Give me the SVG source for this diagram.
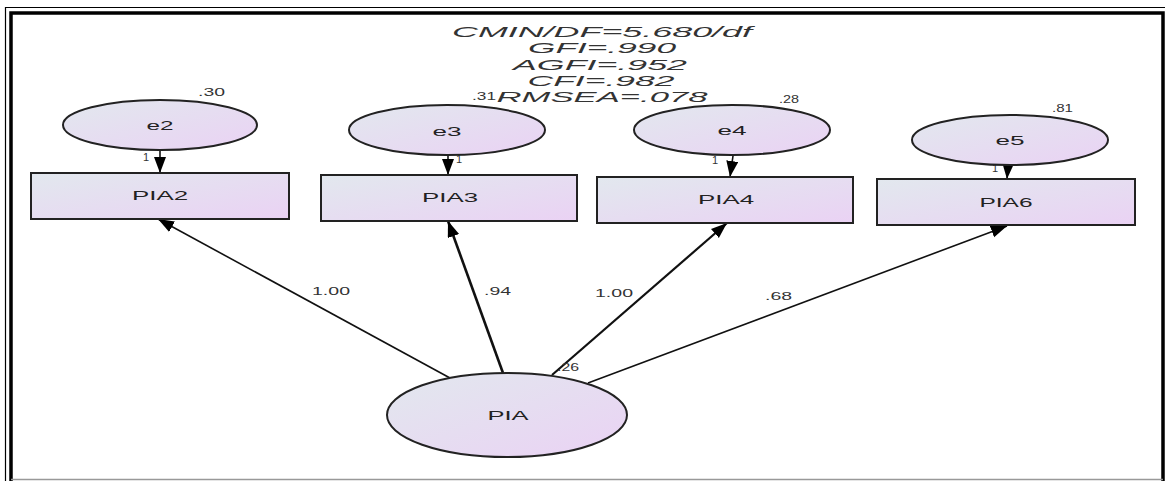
<svg xmlns="http://www.w3.org/2000/svg" width="1165" height="481" viewBox="0 0 1165 481">
<style>
text{font-family:"Liberation Sans",Arial,sans-serif;fill:#222}
.fit{font-size:14.2px;font-style:italic;text-anchor:middle;fill:#333}
.nl{font-size:12px;text-anchor:middle}
.sm{font-size:11px;fill:#333}
.node{fill:url(#g);stroke:#222;stroke-width:2}
.c{stroke:#111;fill:none;stroke-width:1.6;marker-end:url(#ah)}
</style>
<defs>
<linearGradient id="g" x1="0" y1="0" x2="1" y2="1">
<stop offset="0" stop-color="#e2e8ee"/>
<stop offset="1" stop-color="#ead2f4"/>
</linearGradient>
<marker id="ah" markerUnits="userSpaceOnUse" markerWidth="18" markerHeight="14" refX="16" refY="6" orient="auto">
<path d="M0,0 L16,6 L0,12 z" fill="#000"/>
</marker>
</defs>
<rect x="0" y="0" width="1165" height="481" fill="#fff"/>
<g id="frame" fill="none">
<path d="M5.5,481 V7.5 H1165" stroke="#000" stroke-width="1.2"/>
<path d="M11,481 V13 H1163 V481" stroke="#000" stroke-width="3.5"/>
<line x1="11" y1="479.5" x2="1163" y2="479.5" stroke="#999" stroke-width="1.5"/>
</g>
<g id="fit">
<text class="fit" x="602" y="37" textLength="300" lengthAdjust="spacingAndGlyphs">CMIN/DF=5.680/df</text>
<text class="fit" x="602" y="53.3" textLength="148" lengthAdjust="spacingAndGlyphs">GFI=.990</text>
<text class="fit" x="600" y="69.6" textLength="174" lengthAdjust="spacingAndGlyphs">AGFI=.952</text>
<text class="fit" x="601" y="85.9" textLength="147" lengthAdjust="spacingAndGlyphs">CFI=.982</text>
<text class="fit" x="602" y="102.2" textLength="211" lengthAdjust="spacingAndGlyphs">RMSEA=.078</text>
</g>
<g id="connectors">
<line class="c" x1="160" y1="150" x2="160" y2="173"/>
<line class="c" x1="448" y1="155" x2="448" y2="175"/>
<line class="c" x1="733" y1="156" x2="730" y2="177"/>
<line class="c" x1="1008" y1="165" x2="1007" y2="179"/>
<line class="c" x1="450" y1="378" x2="158" y2="219"/>
<line class="c" x1="503" y1="373" x2="448" y2="221" style="stroke-width:2.6"/>
<line class="c" x1="552" y1="375" x2="727" y2="223" style="stroke-width:2.2"/>
<line class="c" x1="588" y1="383" x2="1007" y2="226"/>
<text class="sm" x="143" y="161">1</text>
<text class="sm" x="456" y="163">1</text>
<text class="sm" x="712" y="164">1</text>
<text class="sm" x="992" y="172">1</text>
<text class="sm" x="312" y="295" textLength="38" lengthAdjust="spacingAndGlyphs">1.00</text>
<text class="sm" x="484" y="295" textLength="27" lengthAdjust="spacingAndGlyphs">.94</text>
<text class="sm" x="595" y="297" textLength="38" lengthAdjust="spacingAndGlyphs">1.00</text>
<text class="sm" x="765" y="300" textLength="27" lengthAdjust="spacingAndGlyphs">.68</text>
</g>
<g id="e2">
<ellipse class="node" cx="160" cy="125" rx="97" ry="25"/>
<text class="nl" x="160" y="130" textLength="27" lengthAdjust="spacingAndGlyphs">e2</text>
<text class="sm" x="198" y="96" textLength="27" lengthAdjust="spacingAndGlyphs">.30</text>
</g>
<g id="e3">
<ellipse class="node" cx="447" cy="130" rx="98" ry="25"/>
<text class="nl" x="447" y="136" textLength="29" lengthAdjust="spacingAndGlyphs">e3</text>
<text class="sm" x="472" y="100" textLength="24" lengthAdjust="spacingAndGlyphs">.31</text>
</g>
<g id="e4">
<ellipse class="node" cx="732" cy="130" rx="98" ry="25"/>
<text class="nl" x="732" y="135" textLength="29" lengthAdjust="spacingAndGlyphs">e4</text>
<text class="sm" x="779" y="103" textLength="20" lengthAdjust="spacingAndGlyphs">.28</text>
</g>
<g id="e5">
<ellipse class="node" cx="1010" cy="140" rx="98" ry="25"/>
<text class="nl" x="1010" y="145" textLength="29" lengthAdjust="spacingAndGlyphs">e5</text>
<text class="sm" x="1052" y="112" textLength="21" lengthAdjust="spacingAndGlyphs">.81</text>
</g>
<g id="PIA2">
<rect class="node" x="31" y="173" width="258" height="46"/>
<text class="nl" x="160" y="200" textLength="56" lengthAdjust="spacingAndGlyphs">PIA2</text>
</g>
<g id="PIA3">
<rect class="node" x="321" y="175" width="256" height="46"/>
<text class="nl" x="450" y="202" textLength="56" lengthAdjust="spacingAndGlyphs">PIA3</text>
</g>
<g id="PIA4">
<rect class="node" x="597" y="177" width="256" height="46"/>
<text class="nl" x="726" y="204" textLength="56" lengthAdjust="spacingAndGlyphs">PIA4</text>
</g>
<g id="PIA6">
<rect class="node" x="877" y="179" width="258" height="46"/>
<text class="nl" x="1006" y="207" textLength="53" lengthAdjust="spacingAndGlyphs">PIA6</text>
</g>
<g id="PIA">
<ellipse class="node" cx="507" cy="415" rx="120" ry="42"/>
<text class="nl" x="508" y="420" textLength="41" lengthAdjust="spacingAndGlyphs">PIA</text>
<text class="sm" x="557" y="371" textLength="22" lengthAdjust="spacingAndGlyphs">.26</text>
</g>
</svg>
